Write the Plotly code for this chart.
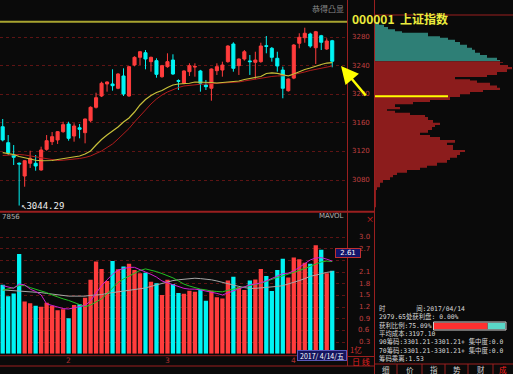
import plotly.graph_objects as go

W, H = 513, 374
def px(x): return x / W
def py(y): return 1 - y / H

# ---------------- data ----------------
idx = list(range(61))
open_ = [3154.5, 3132.2, 3115.4, 3103.5, 3085.6, 3103.4, 3103.4, 3094.0, 3122.9, 3133.6,
         3136.0, 3147.6, 3158.3, 3141.5, 3153.1, 3146.2, 3162.9, 3181.7, 3197.5, 3214.3,
         3214.3, 3208.3, 3225.5, 3197.5, 3240.8, 3251.6, 3258.0, 3245.5, 3246.9, 3224.5,
         3238.5, 3247.8, 3219.0, 3215.3, 3231.5, 3238.0, 3232.5, 3212.9, 3208.3, 3232.9,
         3233.8, 3245.5, 3270.2, 3239.9, 3249.2, 3246.5, 3244.6, 3245.5, 3267.8, 3264.2,
         3250.2, 3233.8, 3204.9, 3222.5, 3271.2, 3279.0, 3284.2, 3265.0, 3281.8, 3263.2, 3274.8]
high = [3165.3, 3142.9, 3128.9, 3104.5, 3107.5, 3121.0, 3115.0, 3126.6, 3142.9, 3147.1,
        3148.5, 3161.5, 3161.5, 3159.3, 3158.3, 3165.8, 3183.0, 3202.1, 3217.5, 3218.0,
        3234.8, 3229.5, 3236.2, 3239.5, 3253.0, 3260.5, 3261.8, 3252.5, 3250.2, 3241.0,
        3257.2, 3255.8, 3220.8, 3233.5, 3243.2, 3243.2, 3234.0, 3219.9, 3236.0, 3243.2,
        3245.5, 3268.5, 3272.6, 3250.0, 3261.8, 3254.8, 3259.4, 3272.0, 3281.4, 3266.0,
        3259.4, 3238.5, 3222.0, 3270.0, 3285.2, 3293.0, 3286.0, 3288.5, 3283.0, 3278.2, 3276.0]
low = [3134.0, 3115.0, 3101.0, 3044.29, 3070.6, 3096.8, 3093.0, 3093.0, 3121.0, 3128.9,
       3130.4, 3146.0, 3135.0, 3133.6, 3138.3, 3131.3, 3161.0, 3180.0, 3196.0, 3203.5,
       3204.9, 3207.0, 3197.5, 3196.5, 3239.0, 3240.8, 3234.8, 3231.5, 3223.1, 3223.0,
       3237.0, 3227.0, 3205.9, 3214.0, 3225.5, 3224.5, 3203.5, 3205.9, 3190.9, 3226.9,
       3224.5, 3244.0, 3231.5, 3226.9, 3246.9, 3226.9, 3220.8, 3244.0, 3257.2, 3245.5,
       3231.5, 3194.3, 3203.5, 3221.0, 3264.2, 3272.0, 3265.0, 3242.2, 3261.8, 3262.0, 3237.6]
close = [3136.0, 3118.2, 3111.8, 3102.4, 3107.0, 3110.4, 3099.6, 3122.0, 3135.0, 3140.6,
         3147.6, 3157.4, 3138.3, 3155.5, 3150.9, 3165.3, 3181.7, 3195.1, 3215.3, 3217.1,
         3211.9, 3228.3, 3200.3, 3238.5, 3251.6, 3259.4, 3249.2, 3251.6, 3227.8, 3239.9,
         3245.5, 3228.3, 3218.0, 3232.5, 3239.9, 3238.6, 3215.3, 3210.5, 3235.2, 3238.5,
         3240.8, 3267.4, 3236.2, 3249.2, 3259.4, 3245.5, 3247.8, 3267.4, 3267.0, 3251.6,
         3239.4, 3208.3, 3221.3, 3268.8, 3279.6, 3285.2, 3267.4, 3287.4, 3272.6, 3274.4, 3246.07]
ma_yellow = [3118.2, 3117.3, 3115.7, 3112.9, 3110.8, 3108.7, 3107.6, 3106.9, 3106.6, 3107.3,
             3108.7, 3110.1, 3111.5, 3112.5, 3113.6, 3116.4, 3120.6, 3129.0, 3136.7, 3142.9,
             3148.5, 3154.1, 3161.1, 3166.7, 3175.1, 3184.9, 3192.6, 3198.2, 3202.4, 3205.2,
             3209.4, 3212.9, 3214.3, 3215.0, 3215.3, 3217.1, 3217.1, 3217.1, 3216.4, 3215.7,
             3216.4, 3217.1, 3217.8, 3218.5, 3220.6, 3222.0, 3223.4, 3224.8, 3229.0, 3229.7,
             3229.2, 3226.9, 3225.5, 3228.3, 3231.8, 3234.6, 3236.6, 3239.4, 3241.5, 3243.6, 3244.3]
ma_red = [3114.3, 3115.0, 3115.7, 3115.7, 3115.0, 3113.6, 3112.2, 3110.8, 3109.4, 3108.0,
          3107.3, 3107.7, 3108.3, 3109.1, 3110.1, 3111.5, 3113.6, 3117.1, 3120.6, 3125.5,
          3130.4, 3137.3, 3144.3, 3152.0, 3161.1, 3169.5, 3178.6, 3186.3, 3193.3, 3198.9,
          3203.1, 3206.6, 3209.4, 3211.5, 3212.5, 3213.2, 3213.9, 3214.3, 3214.7, 3215.3,
          3215.7, 3216.1, 3216.4, 3217.1, 3218.5, 3219.9, 3220.8, 3222.0, 3223.4, 3224.8,
          3225.5, 3225.7, 3226.2, 3227.6, 3229.0, 3231.1, 3233.2, 3234.6, 3236.7, 3238.0, 3239.4]
volume = [1.77, 1.48, 1.55, 2.56, 1.34, 1.30, 1.23, 1.21, 1.31, 1.23,
          1.12, 1.14, 0.91, 1.25, 1.27, 1.44, 1.90, 2.37, 2.18, 1.87,
          2.38, 2.17, 2.24, 2.31, 2.15, 2.07, 2.08, 1.85, 1.81, 1.51,
          1.90, 1.79, 1.56, 1.54, 1.62, 1.59, 1.66, 1.36, 1.62, 1.45,
          1.42, 1.88, 1.98, 1.71, 1.64, 1.88, 1.91, 2.18, 2.00, 1.61,
          2.15, 2.44, 1.96, 2.47, 2.43, 2.34, 2.31, 2.79, 2.67, 2.07, 2.13]
vol_ma5 = [1.75, 1.72, 1.68, 1.79, 1.77, 1.66, 1.60, 1.51, 1.28, 1.24,
           1.20, 1.16, 1.15, 1.18, 1.21, 1.24, 1.36, 1.55, 1.75, 1.90,
           2.04, 2.15, 2.19, 2.22, 2.22, 2.15, 2.10, 2.04, 1.97, 1.87,
           1.82, 1.77, 1.73, 1.68, 1.66, 1.66, 1.64, 1.61, 1.59, 1.55,
           1.51, 1.56, 1.61, 1.66, 1.72, 1.77, 1.79, 1.82, 1.87, 1.93,
           2.01, 2.06, 2.07, 2.13, 2.22, 2.31, 2.41, 2.46, 2.47, 2.43, 2.38]
vol_ma10 = [1.63, 1.66, 1.70, 1.75, 1.75, 1.70, 1.66, 1.61, 1.57, 1.51,
            1.45, 1.41, 1.37, 1.32, 1.25, 1.21, 1.25, 1.33, 1.41, 1.54,
            1.69, 1.83, 1.92, 2.00, 2.08, 2.14, 2.18, 2.15, 2.11, 2.06,
            2.01, 1.95, 1.87, 1.79, 1.74, 1.69, 1.66, 1.64, 1.61, 1.60,
            1.59, 1.63, 1.66, 1.69, 1.72, 1.74, 1.78, 1.81, 1.86, 1.92,
            1.96, 2.00, 2.04, 2.09, 2.14, 2.19, 2.25, 2.31, 2.36, 2.38, 2.37]
vol_ma20 = [1.64, 1.63, 1.63, 1.62, 1.61, 1.60, 1.59, 1.57, 1.55, 1.53,
            1.51, 1.49, 1.48, 1.48, 1.48, 1.48, 1.50, 1.51, 1.52, 1.55,
            1.57, 1.59, 1.61, 1.63, 1.65, 1.66, 1.69, 1.73, 1.77, 1.81,
            1.84, 1.88, 1.90, 1.91, 1.93, 1.94, 1.93, 1.92, 1.90, 1.87,
            1.83, 1.79, 1.75, 1.73, 1.70, 1.68, 1.68, 1.69, 1.70, 1.72,
            1.73, 1.75, 1.79, 1.83, 1.88, 1.93, 1.99, 2.02, 2.06, 2.09, 2.11]

month_start_idx = [12, 30, 53]
month_labels = ["2", "3", "4"]
price_ticks = [3080, 3120, 3160, 3200, 3240, 3280]
vol_grid = [0.3, 0.6, 0.9, 1.2, 1.5, 1.8, 2.1, 2.4, 2.7, 3.0]
vol_labels = ["0.3", "0.6", "0.9", "1.2", "1.5", "1.8", "2.1", "", "2.7", "3.0"]

chip_price = [3301, 3297, 3294, 3291, 3288, 3286, 3281, 3279, 3276, 3273, 3269, 3265, 3262,
              3258, 3255, 3251, 3248, 3245, 3244, 3241, 3238, 3235, 3231, 3227, 3224, 3221,
              3219, 3216, 3212, 3209, 3206, 3203, 3200, 3196, 3192, 3189, 3186, 3182, 3179,
              3177, 3174, 3171, 3168, 3164, 3160, 3157, 3154, 3150, 3146, 3143, 3140, 3136,
              3132, 3129, 3126, 3122, 3119, 3115, 3111, 3108, 3104, 3100, 3097, 3094, 3090,
              3087, 3084, 3080, 3076, 3070, 3066, 3042]
chip_vol = [4, 9, 13, 20, 27, 53, 65, 73, 80, 85, 92, 97, 100,
            105, 112, 122, 125, 128, 125, 133, 137, 132, 122, 112, 80, 95,
            102, 115, 122, 125, 108, 95, 85, 75, 55, 38, 20, 25, 12,
            20, 35, 50, 53, 58, 65, 60, 57, 53, 45, 55, 65, 80,
            72, 78, 78, 90, 85, 82, 75, 72, 62, 52, 45, 32, 22,
            18, 15, 8, 5, 2, 1, 1]

avg_cost = 3197.10
profit_ratio = 75.09
top_price = 3301.21
low_price = 3044.29
last_date = "2017/ 4/14/五"
info_lines = [
    "时&nbsp;&nbsp;&nbsp;&nbsp;&nbsp;&nbsp;&nbsp;&nbsp;间:2017/04/14",
    "2979.65处获利盘: 0.00%",
    "获利比例:%.2f%%" % profit_ratio,
    "平均成本:%.2f" % avg_cost,
    "90筹码:3301.21-3301.21+ 集中度:0.0",
    "70筹码:3301.21-3301.21+ 集中度:0.0",
    "筹码乘离:1.53",
]

RED = "#ff3c3c"
CYAN = "#00f4f4"
BORDER = "#9a1f1f"
GRID = "#5e1414"
LBL = "#c04040"

fig = go.Figure()

# candles
fig.add_trace(go.Candlestick(
    x=idx, open=open_, high=high, low=low, close=close,
    increasing=dict(line=dict(color=RED, width=1), fillcolor=RED),
    decreasing=dict(line=dict(color=CYAN, width=1), fillcolor=CYAN),
    whiskerwidth=0, xaxis="x", yaxis="y", showlegend=False, hoverinfo="skip"))
fig.add_trace(go.Scatter(x=idx, y=ma_red, mode="lines", line=dict(color="#b01c1c", width=1),
                         xaxis="x", yaxis="y", showlegend=False, hoverinfo="skip"))
fig.add_trace(go.Scatter(x=idx, y=ma_yellow, mode="lines", line=dict(color="#c8c03a", width=1.2),
                         xaxis="x", yaxis="y", showlegend=False, hoverinfo="skip"))

# volume
vcolors = [RED if c >= o else CYAN for o, c in zip(open_, close)]
fig.add_trace(go.Bar(x=idx, y=volume, marker=dict(color=vcolors, line=dict(width=0)), width=0.78,
                     xaxis="x2", yaxis="y2", showlegend=False, hoverinfo="skip"))
for arr, col in [(vol_ma20, "#a8a8a8"), (vol_ma10, "#22c022"), (vol_ma5, "#d020d0")]:
    fig.add_trace(go.Scatter(x=idx, y=arr, mode="lines", line=dict(color=col, width=1),
                             xaxis="x2", yaxis="y2", showlegend=False, hoverinfo="skip"))

# chip distribution
cur = close[-1]
up_p = [p for p in chip_price if p > cur]
up_v = chip_vol[:len(up_p)]
dn_p = [p for p in chip_price if p <= cur]
dn_v = chip_vol[len(up_p):]
fig.add_trace(go.Scatter(x=up_v + [up_v[-1]], y=up_p + [cur], mode="lines", line=dict(width=0, shape="vh"),
                         fill="tozerox", fillcolor="#2e7f76", xaxis="x3", yaxis="y3",
                         showlegend=False, hoverinfo="skip"))
fig.add_trace(go.Scatter(x=[up_v[-1]] + dn_v, y=[cur] + dn_p, mode="lines", line=dict(width=0, shape="vh"),
                         fill="tozerox", fillcolor="#8c1c1c", xaxis="x3", yaxis="y3",
                         showlegend=False, hoverinfo="skip"))
fig.add_trace(go.Scatter(x=[0, 73], y=[avg_cost, avg_cost], mode="lines", line=dict(color="#ffff00", width=2),
                         xaxis="x3", yaxis="y3", showlegend=False, hoverinfo="skip"))

# profit ratio bar
fig.add_trace(go.Bar(x=[profit_ratio], y=[0], base=[0], orientation="h", width=1,
                     marker=dict(color="#ff3030", line=dict(width=0)), xaxis="x4", yaxis="y4",
                     showlegend=False, hoverinfo="skip"))
fig.add_trace(go.Bar(x=[100 - profit_ratio], y=[0], base=[profit_ratio], orientation="h", width=1,
                     marker=dict(color="#5ad8c8", line=dict(width=0)), xaxis="x4", yaxis="y4",
                     showlegend=False, hoverinfo="skip"))

prange = [3036.65, 3331.75]
vtop = (353.7 - 214) / 38.9
xr = [-0.49, 62.78]
hid = dict(visible=False, showgrid=False, zeroline=False)

fig.update_layout(
    width=W, height=H, margin=dict(l=0, r=0, t=0, b=0),
    paper_bgcolor="#0a0a0a", plot_bgcolor="rgba(0,0,0,0)",
    barmode="overlay", showlegend=False, boxgap=0.2,
    xaxis=dict(domain=[0, px(347.5)], range=xr, anchor="y", rangeslider=dict(visible=False), **hid),
    yaxis=dict(domain=[py(211), 1], range=prange, anchor="x", tickvals=price_ticks, showticklabels=False,
               showgrid=True, gridcolor=GRID, griddash="dot", gridwidth=1, zeroline=False, showline=False, ticks=""),
    xaxis2=dict(domain=[0, px(347.5)], range=xr, anchor="y2", **hid),
    yaxis2=dict(domain=[py(353.7), py(214)], range=[0, vtop], anchor="x2", tickvals=vol_grid,
                showticklabels=False, showgrid=True, gridcolor=GRID, griddash="dot", gridwidth=1,
                zeroline=False, showline=False, ticks=""),
    xaxis3=dict(domain=[px(375), 1], range=[0, 138], anchor="y3", **hid),
    yaxis3=dict(domain=[py(211), 1], range=prange, anchor="x3", **hid),
    xaxis4=dict(domain=[px(434), px(505.5)], range=[0, 100], anchor="y4", **hid),
    yaxis4=dict(domain=[py(329.5), py(322.5)], range=[-0.5, 0.5], anchor="x4", **hid),
)

shapes = []
def pline(x0, y0, x1, y1, color=BORDER, width=1):
    shapes.append(dict(type="line", xref="paper", yref="paper", x0=px(x0), y0=py(y0), x1=px(x1), y1=py(y1),
                       line=dict(color=color, width=width)))
shapes.append(dict(type="line", xref="paper", yref="y", x0=0, x1=px(347.5), y0=top_price, y1=top_price,
                   line=dict(color="#a8a430", width=2)))
pline(0, 211.7, 374.5, 211.7, width=2)
pline(347.5, 0, 347.5, 366)
pline(374.5, 0, 374.5, 374)
pline(374.5, 15, 513, 15)
pline(0, 355.7, 347.5, 355.7)
pline(0, 366, 374.5, 366)
pline(347.5, 356.5, 374.5, 356.5)
pline(374.5, 364, 513, 364)
for sx in [397, 422, 445, 468, 493]:
    pline(sx, 364, sx, 374)
shapes.append(dict(type="rect", xref="paper", yref="paper", x0=px(433.5), x1=px(506), y0=py(330), y1=py(322),
                   line=dict(color="#d0d0d0", width=1)))
fig.update_layout(shapes=shapes)

ann = []
def txt(x, y, t, size=8, color="#d8d8d8", xanchor="center", yref="paper", xref="paper",
        family="Noto Sans CJK SC", yanchor="middle", **kw):
    ann.append(dict(x=x, y=y, xref=xref, yref=yref, text=t, showarrow=False, xanchor=xanchor, yanchor=yanchor,
                    font=dict(size=size, color=color, family=family), **kw))

for p in price_ticks:
    txt(px(372), p, str(p), size=7, color=LBL, xanchor="right", yref="y", family="DejaVu Sans")
for v, l in zip(vol_grid, vol_labels):
    if l:
        txt(px(372), v, l, size=7, color=LBL, xanchor="right", yref="y2", family="DejaVu Sans")
txt(px(348), py(349.5), "1亿", size=7.5, color="#d03030", xanchor="left")
txt(px(369.5), py(218), "×", size=8, color="#e02020")
ann.append(dict(x=px(361), y=py(257.5), xref="paper", yref="paper", text="2.61", showarrow=False,
                font=dict(size=7, color="#ffffff", family="DejaVu Sans"), bgcolor="#14146a",
                bordercolor="#c03030", borderwidth=1, borderpad=0, width=24, height=8))
for i, l in zip(month_start_idx, month_labels):
    txt(i, py(360.5), l, size=7.5, color="#b03030", xref="x2", family="DejaVu Sans")
ann.append(dict(x=px(321.5), y=py(361), xref="paper", yref="paper", text=last_date, showarrow=False,
                font=dict(size=7, color="#ffffff", family="Noto Sans CJK SC"), bgcolor="#14145e",
                bordercolor="#5858b8", borderwidth=1, borderpad=0, width=48, height=9))
txt(px(361), py(361.3), "日 线", size=8, color="#e02020")
txt(px(18.5), low_price, "↖3044.29", size=9, color="#f0f0f0", xanchor="left", yref="y", family="DejaVu Sans Mono")
txt(px(346), py(216), "MAVOL", size=7, color="#b0b0b0", xanchor="right", family="DejaVu Sans")
txt(px(0), py(217), "7856", size=7, color="#b0b0b0", xanchor="left", family="DejaVu Sans")
txt(px(346), py(1), "恭得凸显", size=8, color="#8a8a8a", xanchor="right", yanchor="top")
ann.append(dict(x=px(450), y=py(8), xref="paper", yref="paper", text="<b>000001  上证指数</b>", showarrow=False,
                font=dict(size=12, color="#ecec3c", family="Noto Sans CJK SC")))
# info block
ann.append(dict(x=px(376.5), y=py(302.3), xref="paper", yref="paper", text="<br>".join(info_lines),
                showarrow=False, xanchor="left", yanchor="top", align="left",
                font=dict(size=6.4, color="#d8d8d8", family="DejaVu Sans Mono, Noto Sans CJK SC")))
# tabs
for tx, t in zip([386, 409.5, 433.5, 456.5, 480.5], ["细", "价", "指", "势", "财"]):
    txt(px(tx), py(369.8), t, size=7.5, color="#d0d0d0")
txt(px(503), py(369.8), "成", size=7.5, color="#ff2020")
ann.append(dict(x=px(341), y=py(66), xref="paper", yref="paper", text="", showarrow=True,
                ax=26, ay=31, arrowcolor="#ffff00", arrowwidth=2.5, arrowhead=2, arrowsize=1.4))

fig.update_layout(annotations=ann)
fig.write_html("out.html")
